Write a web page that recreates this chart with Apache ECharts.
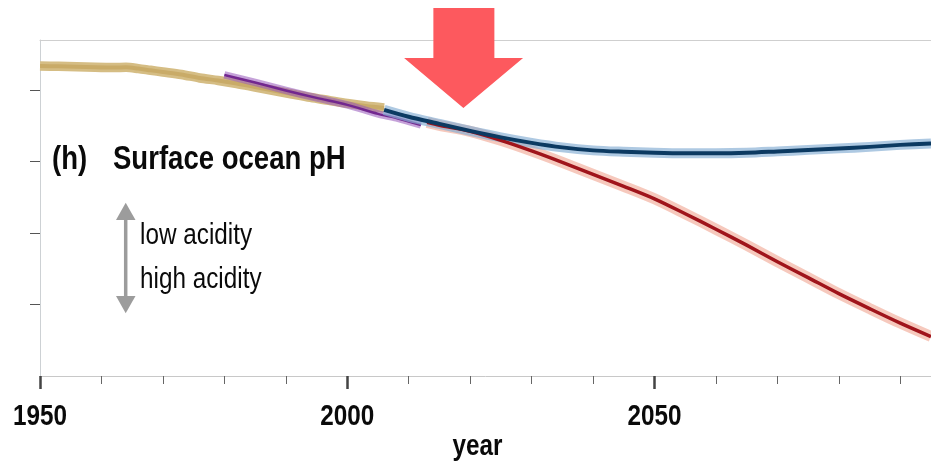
<!DOCTYPE html>
<html>
<head>
<meta charset="utf-8">
<script src="https://cdn.jsdelivr.net/npm/echarts@6/dist/echarts.min.js"></script>
<style>
  html, body { margin: 0; padding: 0; background: #ffffff; }
  #chart { width: 931px; height: 465px; }
</style>
</head>
<body>
<div id="chart"></div>
<script>
// Surface ocean pH: reconstruction, observations and two emission scenarios
const historyYears = [1950, 1953, 1956, 1959, 1962, 1964, 1966, 1968, 1970, 1973, 1976, 1979, 1982, 1985, 1988, 1991, 1994, 1997, 2000, 2003, 2006];
const historyPH    = [8.1337, 8.1332, 8.1326, 8.1318, 8.1314, 8.1318, 8.1300, 8.1276, 8.1253, 8.1218, 8.1169, 8.1134, 8.1092, 8.1043, 8.0994, 8.0945, 8.0897, 8.0855, 8.0813, 8.0778, 8.0750];

const observedYears = [1980, 1985, 1990, 1995, 2000, 2005, 2008, 2012];
const observedPH    = [8.1211, 8.1106, 8.0994, 8.0890, 8.0793, 8.0667, 8.0610, 8.0512];

const lowYears = [2006, 2010, 2015, 2020, 2025, 2030, 2035, 2040, 2045, 2050, 2055, 2060, 2065, 2070, 2075, 2080, 2085, 2090, 2095];
const lowPH    = [8.0723, 8.0626, 8.0527, 8.0429, 8.0338, 8.0261, 8.0198, 8.0156, 8.0136, 8.0122, 8.0115, 8.0115, 8.0122, 8.0142, 8.0163, 8.0184, 8.0205, 8.0233, 8.0254];

const highYears = [2013, 2015, 2020, 2025, 2030, 2035, 2040, 2045, 2050, 2055, 2060, 2065, 2070, 2075, 2080, 2085, 2090, 2095];
const highPH    = [8.0547, 8.0506, 8.0422, 8.0296, 8.0149, 7.9989, 7.9821, 7.9654, 7.9479, 7.9270, 7.9053, 7.8830, 7.8599, 7.8376, 7.8152, 7.7943, 7.7740, 7.7552];

const labelYears = [1950, 2000, 2050];
const minorYears = [1960, 1970, 1980, 1990, 2010, 2020, 2030, 2040, 2060, 2070, 2080, 2090];
const phTicks = [7.8, 7.9, 8.0, 8.1];
const markerYear = 2018.9;

// Arial-metric face, squeezed horizontally to a narrow cut
const FONT = "'Liberation Sans', Arial, sans-serif";
const SQUEEZE = 0.81;

function pairs(xs, ys) { return xs.map((x, i) => [x, ys[i]]); }

function band(data, width, color, z) {
  return { type: 'line', data, showSymbol: false, smooth: 0.3, silent: true, z,
           lineStyle: { width, color, cap: 'butt', join: 'round' } };
}

function narrowText(text, x, y, size, bold, align) {
  return { type: 'text', z: 20, x, y, scaleX: SQUEEZE, silent: true,
           style: { text, font: (bold ? 'bold ' : '') + size + 'px ' + FONT, fill: '#0a0a0a',
                    align: align || 'left', verticalAlign: 'middle' } };
}

const chart = echarts.init(document.getElementById('chart'), null, { renderer: 'canvas' });

chart.setOption({
  animation: false,
  grid: { left: 40, right: 0, top: 40, bottom: 89, outerBoundsMode: 'none' },
  xAxis: [{
    type: 'value', min: 1950, max: 2095,
    axisLine: { show: true, lineStyle: { color: '#c8c8c8', width: 1 } },
    axisTick: { show: true, customValues: minorYears, length: 8, lineStyle: { color: '#666666', width: 1 } },
    axisLabel: { show: false },
    splitLine: { show: false }
  }, {
    // heavier ticks on the labelled years
    type: 'value', min: 1950, max: 2095, position: 'bottom',
    axisLine: { show: false },
    axisTick: { show: true, customValues: labelYears, length: 13, lineStyle: { color: '#444444', width: 2.5 } },
    axisLabel: { show: false }, splitLine: { show: false }
  }, {
    // top frame line
    type: 'value', min: 1950, max: 2095, position: 'top',
    axisLine: { show: true, lineStyle: { color: '#cfcfcf', width: 1 } },
    axisTick: { show: false }, axisLabel: { show: false }, splitLine: { show: false }
  }],
  yAxis: {
    type: 'value', min: 7.7, max: 8.17,
    axisLine: { show: true, lineStyle: { color: '#cdd1d4', width: 1 } },
    axisTick: { show: true, customValues: phTicks, length: 10, lineStyle: { color: '#555555', width: 1 } },
    axisLabel: { show: false },
    splitLine: { show: false }
  },
  series: [
    band(pairs(historyYears, historyPH), 9.5, '#d5bd84', 2),
    band(pairs(historyYears, historyPH), 4, '#c9ab68', 3),
    band(pairs(observedYears, observedPH), 7.5, 'rgba(150,85,185,0.55)', 4),
    band(pairs(observedYears, observedPH), 2.5, '#72278f', 5),
    band(pairs(highYears, highPH), 11, 'rgba(240,168,148,0.62)', 6),
    band(pairs(lowYears, lowPH), 10, 'rgba(135,176,212,0.68)', 7),
    band(pairs(highYears, highPH), 3.5, '#a0141b', 8),
    band(pairs(lowYears, lowPH), 4, '#0c3a62', 9)
  ]
});

// year labels under the axis, placed from the axis scale
const axisBottom = chart.convertToPixel({ yAxisIndex: 0 }, 7.7);
const plotLeft = chart.convertToPixel({ xAxisIndex: 0 }, 1950);
const plotRight = chart.convertToPixel({ xAxisIndex: 0 }, 2095);
const yearLabels = labelYears.map(yr =>
  narrowText(String(yr), chart.convertToPixel({ xAxisIndex: 0 }, yr), axisBottom + 41, 30, true, 'center'));

// "now" marker arrow above the curves
const mx = chart.convertToPixel({ xAxisIndex: 0 }, markerYear);
const arrowPts = [[-30, 8], [31, 8], [31, 58], [59.7, 58], [0, 108], [-59.3, 58], [-30, 58]]
  .map(p => [mx + p[0], p[1]]);

chart.setOption({
  graphic: [
    { type: 'polygon', z: 20, shape: { points: arrowPts }, style: { fill: '#fd595e' } },
    { type: 'line', z: 20, shape: { x1: 125.7, y1: 218, x2: 125.7, y2: 298 },
      style: { stroke: '#9c9c9c', lineWidth: 3.5 } },
    { type: 'polygon', z: 20, shape: { points: [[125.7, 202.7], [135.5, 220], [116, 220]] }, style: { fill: '#9c9c9c' } },
    { type: 'polygon', z: 20, shape: { points: [[125.7, 313.3], [135.5, 296], [116, 296]] }, style: { fill: '#9c9c9c' } },
    narrowText('(h)', 52, 160, 34, true),
    narrowText('Surface ocean pH', 113, 160, 34, true),
    narrowText('low acidity', 140, 236, 30, false),
    narrowText('high acidity', 140, 280, 30, false),
    narrowText('year', (plotLeft + plotRight) / 2 - 8, 447, 30, true, 'center')
  ].concat(yearLabels)
});
</script>
</body>
</html>
